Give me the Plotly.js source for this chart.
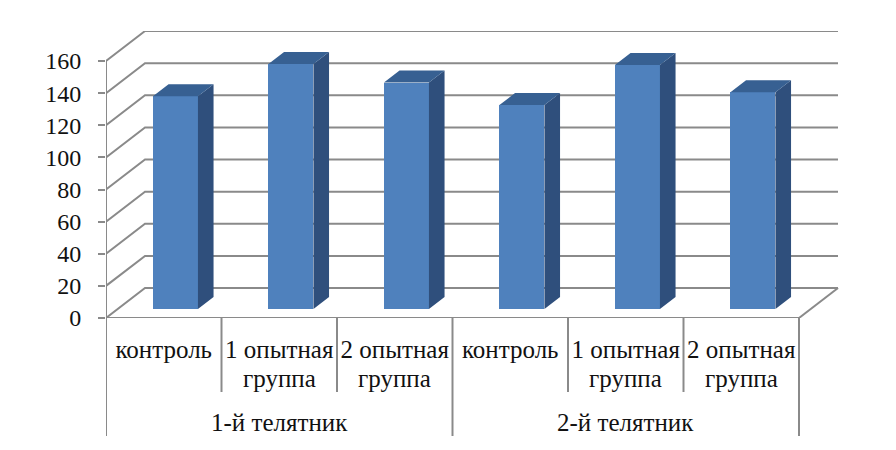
<!DOCTYPE html>
<html>
<head>
<meta charset="utf-8">
<script src="https://cdn.plot.ly/plotly-3.0.1.min.js"></script>
<style>html,body{margin:0;padding:0;background:#fff}</style>
</head>
<body>
<div id="chart" style="width:896px;height:450px"></div>
<script>
const categories = ["контроль", "1 опытная", "2 опытная", "контроль", "1 опытная", "2 опытная"];
const categoriesLine2 = ["", "группа", "группа", "", "группа", "группа"];
const groups = ["1-й телятник", "2-й телятник"];
const values = [132.5, 152.5, 141, 127, 152, 135];
const yTicks = [0, 20, 40, 60, 80, 100, 120, 140, 160];

const PW = 896, PH = 450, L = 106, R = 56, T = 31, B = 132;
const unitX = 115.5, unitY = 1.606;
const depthX = 39 / unitX, depthY = 30 / unitY;
const barW = 45 / unitX;
const barStart = 0.3, barDepth = 0.4;
const x0 = -0.5, x1 = 5.5;
const xRange = [x0, x0 + (PW - L - R) / unitX];
const yRange = [0, (PH - T - B) / unitY];
const gridColor = "#8a8a8a";
const plotH = PH - T - B;
const textFont = {family: "Liberation Serif", size: 25, color: "#111"};

const xs = values.map((_, i) => i + barStart * depthX);
const base = barStart * depthY;
const ddx = barDepth * depthX, ddy = barDepth * depthY;

const sideX = [], sideY = [], topX = [], topY = [];
values.forEach((v, i) => {
  const r = xs[i] + barW / 2, l = xs[i] - barW / 2, t = base + v;
  sideX.push(r, r + ddx, r + ddx, r, r, null);
  sideY.push(base, base + ddy, t + ddy, t, base, null);
  topX.push(l, l + ddx, r + ddx, r, l, null);
  topY.push(t, t + ddy, t + ddy, t, t, null);
});

const traces = [
  {type: "bar", x: xs, y: values, base: base, width: barW,
   marker: {color: "#4f81bd", line: {width: 0}}, showlegend: false, hoverinfo: "skip"},
  {type: "scatter", mode: "lines", x: sideX, y: sideY, fill: "toself", fillcolor: "#2f4f7c",
   line: {width: 0, color: "#2f4f7c"}, showlegend: false, hoverinfo: "skip"},
  {type: "scatter", mode: "lines", x: topX, y: topY, fill: "toself", fillcolor: "#376092",
   line: {width: 0, color: "#376092"}, showlegend: false, hoverinfo: "skip"}
];

const line = {color: gridColor, width: 2};
const shapes = yTicks.map(v => ({
  type: "path", layer: "below", xref: "x", yref: "y", line: line,
  path: `M ${x0} ${v} L ${x0 + depthX} ${v + depthY} L ${x1 + depthX} ${v + depthY}`
}));
shapes.push(
  {type: "line", layer: "below", xref: "x", yref: "y", x0: x0, x1: x0, y0: 0, y1: yTicks[yTicks.length - 1], line: line},
  {type: "line", layer: "below", xref: "x", yref: "y", x0: x0, x1: x1, y0: 0, y1: 0, line: line},
  {type: "line", layer: "below", xref: "x", yref: "y", x0: x1, x1: x1 + depthX, y0: 0, y1: depthY, line: line}
);
categories.forEach((_, i) => {
  const edge = i % 3 === 0;
  shapes.push({type: "line", xref: "x", yref: "paper", x0: x0 + i, x1: x0 + i, y0: 0,
    y1: edge ? -118 / plotH : -74 / plotH, line: line});
});
shapes.push({type: "line", xref: "x", yref: "paper", x0: x1, x1: x1, y0: 0, y1: -118 / plotH, line: line});

const annotations = groups.map((g, i) => ({
  text: g, xref: "x", yref: "paper", x: 1 + 3 * i, y: -105 / plotH,
  xanchor: "center", yanchor: "middle", showarrow: false, font: textFont
}));
categoriesLine2.forEach((t, i) => {
  if (t) annotations.push({text: t, xref: "x", yref: "paper", x: i, y: -60 / plotH,
    xanchor: "center", yanchor: "middle", showarrow: false, font: textFont});
});

const layout = {
  width: PW, height: PH,
  margin: {l: L, r: R, t: T, b: B, pad: 0},
  paper_bgcolor: "#fff", plot_bgcolor: "#fff",
  showlegend: false, hovermode: false, bargap: 0,
  xaxis: {range: xRange, tickmode: "array", tickvals: categories.map((_, i) => i), ticktext: categories,
    tickangle: 0, showgrid: false, zeroline: false, showline: false, ticks: "", ticklabelstandoff: 14,
    tickfont: textFont},
  yaxis: {range: yRange, tickmode: "array", tickvals: yTicks, ticktext: yTicks.map(String),
    showgrid: false, zeroline: false, showline: false, ticks: "outside", ticklen: 7, tickwidth: 2,
    tickcolor: gridColor, ticklabelstandoff: 12,
    tickfont: {family: "Liberation Serif", size: 24, color: "#111"}},
  shapes: shapes, annotations: annotations
};
Plotly.newPlot("chart", traces, layout, {displayModeBar: false, staticPlot: true});
</script>
</body>
</html>
